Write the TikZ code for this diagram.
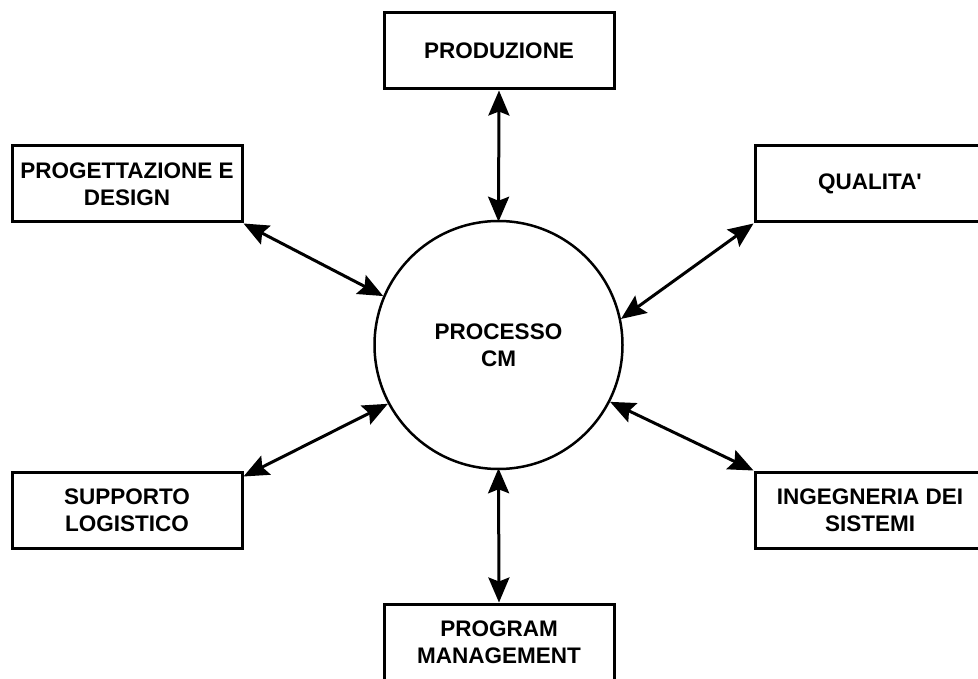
\documentclass[tikz,border=0pt]{standalone}
\usepackage{fontspec}
\setmainfont{Liberation Sans}[Ligatures=TeXOff]
\usetikzlibrary{arrows.meta}
\begin{document}
\begin{tikzpicture}[x=1pt,y=-1pt,
  area/.style={draw=black, line width=3pt, fill=white, minimum width=230pt,
    minimum height=76pt, inner sep=0pt, align=center,
    font=\fontsize{22.5}{27}\selectfont\bfseries},
  core/.style={draw=black, line width=2.5pt, circle, minimum size=248pt,
    inner sep=0pt, align=center, font=\fontsize{22.5}{27}\selectfont\bfseries},
  link/.style={line width=3pt, {Stealth[length=25pt,width=21pt,inset=4pt]}-{Stealth[length=25pt,width=21pt,inset=4pt]}}]
  \useasboundingbox (0,0) rectangle (978,679);
  \fill[white] (0,0) rectangle (978,679);

  % central process
  \node[core] (cm) at (498.5,345) {PROCESSO\\CM};

  % surrounding areas
  \node[area] (prod) at (499,51) {PRODUZIONE};
  \node[area] (prog) at (127,184) {PROGETTAZIONE E\\DESIGN};
  \node[area] (qual) at (870,184) {QUALITA'};
  \node[area] (supp) at (127,510) {SUPPORTO\\LOGISTICO};
  \node[area] (inge) at (870,510) {INGEGNERIA DEI\\SISTEMI};
  \node[area] (prgm) at (499,642) {PROGRAM\\MANAGEMENT};

  % anchor points on the circle
  \coordinate (cTop) at ([yshift=-2pt]cm.north);
  \coordinate (cBot) at ([yshift=2pt]cm.south);
  \coordinate (supE) at ([yshift=-6pt]supp.north east);

  % two-way flows
  \draw[link] (prod.south) -- (cTop);
  \draw[link] (prgm.north) -- (cBot);
  \draw[link] (prog.south east) -- (cm.157);
  \draw[link] (qual.south west) -- (cm.12.5);
  \draw[link] (supE) -- (cm.208.6);
  \draw[link] (inge.north west) -- (cm.333.3);
\end{tikzpicture}
\end{document}
